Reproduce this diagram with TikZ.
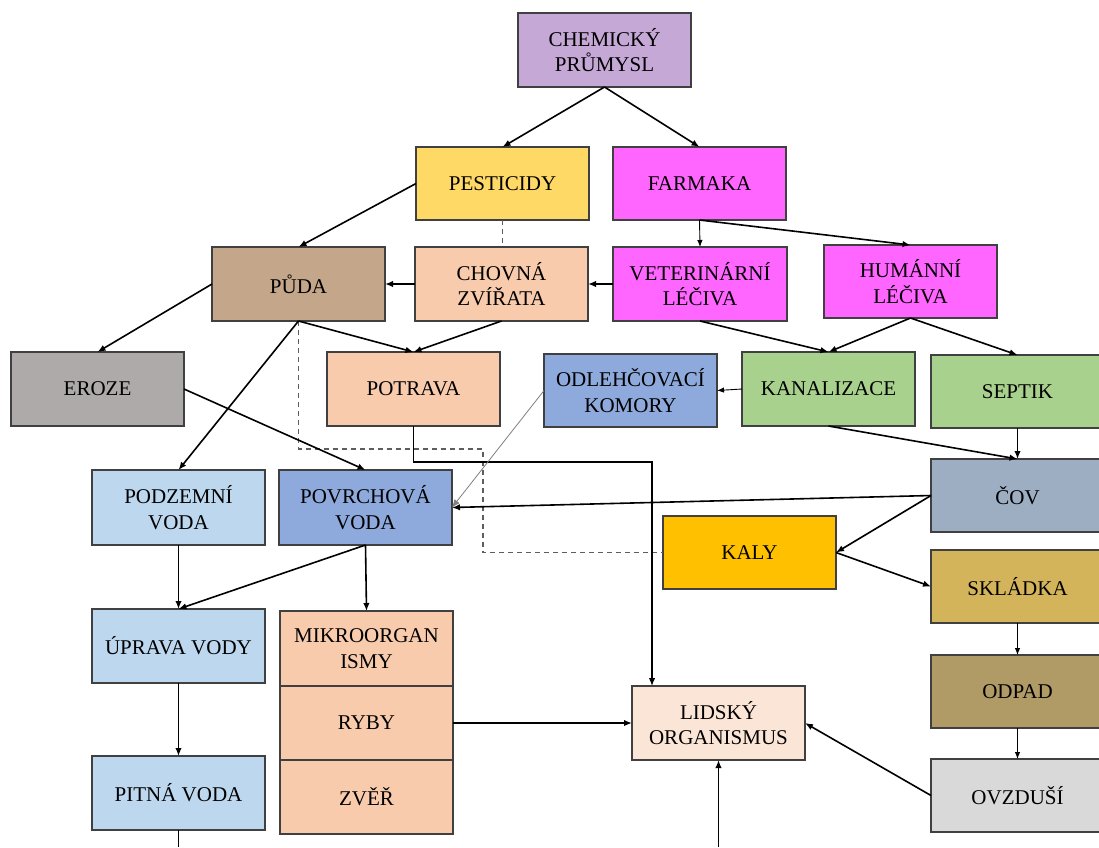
\documentclass[tikz,border=0pt]{standalone}
\usepackage{fontspec}
\setmainfont{Liberation Serif}
\usetikzlibrary{arrows.meta,calc}
\definecolor{bordc}{HTML}{404040}
\definecolor{cchem}{HTML}{C5A8D6}
\definecolor{cpest}{HTML}{FFD966}
\definecolor{cfarm}{HTML}{FF66FF}
\definecolor{cpuda}{HTML}{C4A68A}
\definecolor{cchov}{HTML}{F8CBAD}
\definecolor{ceroze}{HTML}{AEAAAA}
\definecolor{codleh}{HTML}{8EA9DB}
\definecolor{ckanal}{HTML}{A9D18E}
\definecolor{ccov}{HTML}{9DAEC3}
\definecolor{cpodz}{HTML}{BDD7EE}
\definecolor{ckaly}{HTML}{FFC000}
\definecolor{cskl}{HTML}{D4B45A}
\definecolor{clid}{HTML}{FBE5D6}
\definecolor{codpad}{HTML}{B09B67}
\definecolor{covz}{HTML}{D9D9D9}
\newcommand\mybox[7]{\node[box, fill=#6, minimum width={#4-#2}, minimum height={#5-#3}] (#1) at ({(#2+#4)/2},{(#3+#5)/2}) {#7};}
\begin{document}
\begin{tikzpicture}[x=1pt,y=-1pt,
  box/.style={draw=bordc, line width=2.9pt, inner sep=0pt, outer sep=0pt, align=center, font=\fontsize{21}{25.5}\selectfont},
  arr/.style={line width=1.6pt, -{Latex[length=8pt,width=6.5pt]}},
  thinarr/.style={line width=0.9pt, -{Latex[length=7pt,width=5.5pt]}},
  greyarr/.style={line width=0.8pt, draw=gray, -{Latex[length=8pt,width=6.5pt]}},
  dashline/.style={line width=1.3pt, draw=bordc!85, dash pattern=on 5pt off 4pt}]
\useasboundingbox (0,0) rectangle (1099,847);
\fill[white] (0,0) rectangle (1099,847);

\mybox{chem}{518}{13}{691}{87}{cchem}{CHEMICKÝ\\PRŮMYSL}
\mybox{pest}{416}{147}{589}{220}{cpest}{PESTICIDY}
\mybox{farm}{613}{147}{786}{220}{cfarm}{FARMAKA}
\mybox{puda}{212}{247}{385}{321}{cpuda}{PŮDA}
\mybox{chov}{415}{247}{588}{321}{cchov}{CHOVNÁ\\ZVÍŘATA}
\mybox{vet}{613}{247}{787}{321}{cfarm}{VETERINÁRNÍ\\LÉČIVA}
\mybox{hum}{824}{245}{997}{318}{cfarm}{HUMÁNNÍ\\LÉČIVA}
\mybox{eroze}{11}{352}{184}{426}{ceroze}{EROZE}
\mybox{pot}{327}{352}{500}{426}{cchov}{POTRAVA}
\mybox{odleh}{544}{354}{717}{427}{codleh}{ODLEHČOVACÍ\\KOMORY}
\mybox{kanal}{742}{352}{915}{426}{ckanal}{KANALIZACE}
\mybox{sept}{931}{355}{1104}{428}{ckanal}{SEPTIK}
\mybox{cov}{931}{459}{1104}{532}{ccov}{ČOV}
\mybox{podz}{92}{470}{265}{545}{cpodz}{PODZEMNÍ\\VODA}
\mybox{povr}{279}{470}{452}{545}{codleh}{POVRCHOVÁ\\VODA}
\mybox{kaly}{663}{516}{836}{589}{ckaly}{KALY}
\mybox{skl}{931}{550}{1104}{623}{cskl}{SKLÁDKA}
\mybox{uprava}{92}{609}{265}{683}{cpodz}{ÚPRAVA VODY}
\mybox{mikro}{280}{611}{453}{686}{cchov}{MIKROORGAN\\ISMY}
\mybox{ryby}{280}{686}{453}{760}{cchov}{RYBY}
\mybox{zver}{280}{760}{453}{834}{cchov}{ZVĚŘ}
\mybox{lid}{632}{686}{805}{760}{clid}{LIDSKÝ\\ORGANISMUS}
\mybox{odpad}{931}{655}{1104}{728}{codpad}{ODPAD}
\mybox{pitna}{92}{756}{265}{830}{cpodz}{PITNÁ VODA}
\mybox{ovz}{931}{759}{1104}{832}{covz}{OVZDUŠÍ}

\coordinate (dcorner) at (483,449);
\coordinate (lidin) at (652,686);
\coordinate (bottomin) at (718.5,847);
\coordinate (pitout) at (178.5,847);

% dashed
\draw[dashline] (pest.south) -- (chov.north -| pest.south);
\draw[dashline] (puda.south) |- (dcorner) |- (kaly.west);

% arrows
\draw[arr] (chem.south) -- (pest.north);
\draw[arr] (chem.south) -- (farm.north);
\draw[arr] (pest.west) -- (puda.north);
\draw[arr] (chov.west) -- (puda.east);
\draw[arr] (vet.west) -- (chov.east);
\draw[thinarr] (farm.south) -- (vet.north);
\draw[arr] (farm.south) -- (hum.north);
\draw[arr] (puda.west) -- (eroze.north);
\draw[arr] (puda.south) -- (pot.north);
\draw[arr] (chov.south) -- (pot.north);
\draw[arr] (puda.south) -- (podz.north);
\draw[arr] (eroze.east) -- (povr.north);
\draw[arr, line width=1.4pt] (pot.south) -- ++(0,36) -| (lidin);
\draw[greyarr] (odleh.west) -- (povr.east);
\draw[thinarr] (kanal.west) -- (odleh.east);
\draw[arr] (vet.south) -- (kanal.north);
\draw[arr] (hum.south) -- (kanal.north);
\draw[arr] (hum.south) -- (sept.north);
\draw[arr] (kanal.south) -- (cov.north);
\draw[arr] (sept.south) -- (cov.north);
\draw[arr] (cov.west) -- (povr.east);
\draw[arr] (cov.west) -- (kaly.east);
\draw[arr] (kaly.east) -- (skl.west);
\draw[thinarr] (skl.south) -- (odpad.north);
\draw[thinarr] (odpad.south) -- (ovz.north);
\draw[arr] (ovz.west) -- (lid.east);
\draw[arr] (ryby.east) -- (lid.west);
\draw[arr] (bottomin) -- (lid.south);
\draw[line width=1.6pt] (pitna.south) -- (pitout);
\draw[arr] (podz.south) -- (uprava.north);
\draw[arr] (povr.south) -- (uprava.north);
\draw[arr] (povr.south) -- (mikro.north);
\draw[arr] (uprava.south) -- (pitna.north);
\end{tikzpicture}
\end{document}
